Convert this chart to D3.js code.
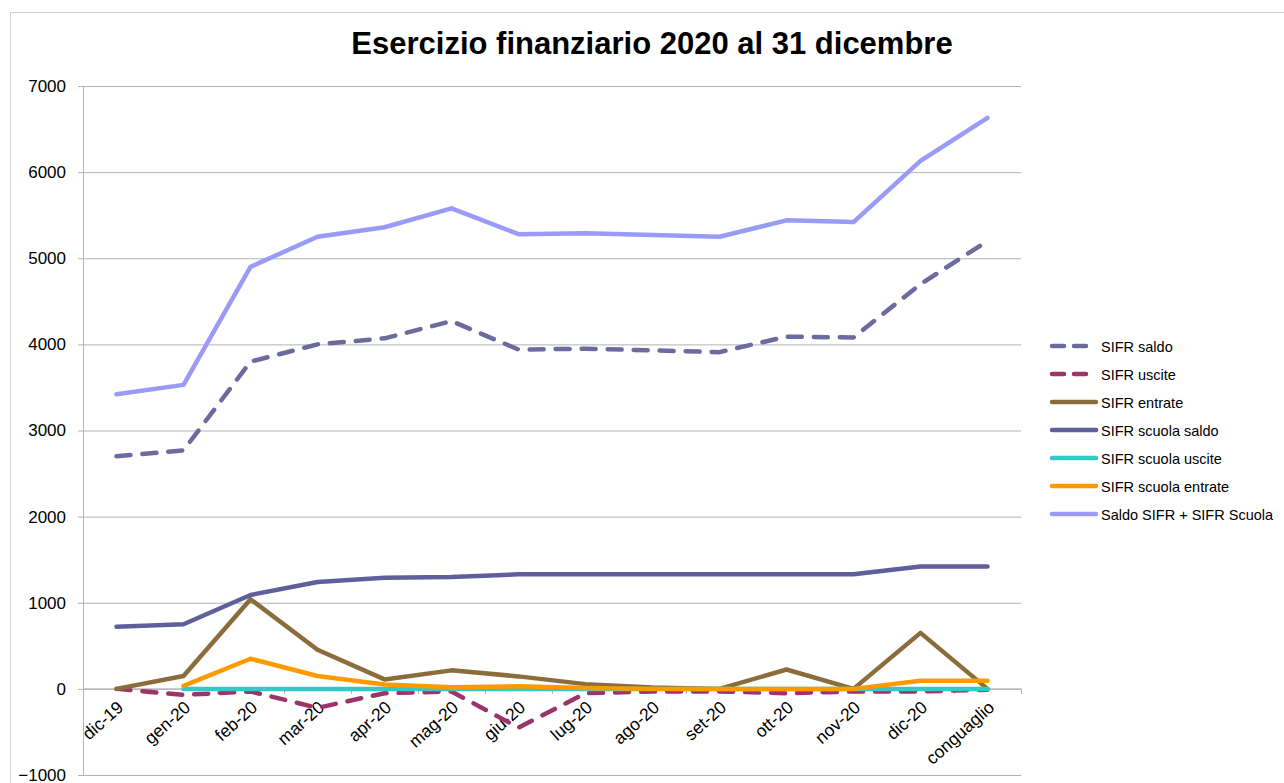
<!DOCTYPE html>
<meta charset="utf-8">
<style>
body { margin: 0; background: #fff; }
text { font-family: "Liberation Sans", Arial, Helvetica, sans-serif; fill: #000; }
.grid line { stroke: #b3b3b3; stroke-width: 1; }
.series { fill: none; stroke-width: 4.5; stroke-linejoin: round; stroke-linecap: round; }
</style>
<svg width="1284" height="783"></svg>
<script src="https://d3js.org/d3.v7.min.js"></script>
<script>

var categories = ["dic-19", "gen-20", "feb-20", "mar-20", "apr-20", "mag-20", "giu-20",
                  "lug-20", "ago-20", "set-20", "ott-20", "nov-20", "dic-20", "conguaglio"];

// values (null = no point)
var sifrSaldo      = [2700, 2770, 3800, 4000, 4070, 4270, 3940, 3950, 3930, 3910, 4090, 4080, 4700, 5200];
var sifrUscite     = [0, -70, -30, -220, -50, -30, -450, -50, -30, -30, -50, -30, -30, -10];
var sifrEntrate    = [0, 150, 1040, 455, 110, 215, 145, 55, 15, 0, 225, 0, 650, 0];
var scuolaSaldo    = [720, 750, 1090, 1240, 1290, 1300, 1330, 1330, 1330, 1330, 1330, 1330, 1420, 1420];
var scuolaUscite   = [null, 0, 0, 0, 0, 0, 0, 0, 0, 0, 0, 0, 0, 0];
var scuolaEntrate  = [null, 35, 350, 150, 50, 20, 30, 10, 0, 0, 0, 0, 95, 95];
var saldoTotale    = [3420, 3530, 4900, 5250, 5360, 5580, 5280, 5290, 5270, 5250, 5440, 5420, 6130, 6630];

var yTicks = [-1000, 0, 1000, 2000, 3000, 4000, 5000, 6000, 7000];

var series = [
  {name: "SIFR saldo", values: sifrSaldo, color: "#6b6b9e", dash: true},
  {name: "SIFR uscite", values: sifrUscite, color: "#9b3468", dash: true},
  {name: "SIFR entrate", values: sifrEntrate, color: "#8b6c3c", dash: false},
  {name: "SIFR scuola saldo", values: scuolaSaldo, color: "#5f5f9c", dash: false},
  {name: "SIFR scuola uscite", values: scuolaUscite, color: "#33c9c6", dash: false},
  {name: "SIFR scuola entrate", values: scuolaEntrate, color: "#ff9900", dash: false},
  {name: "Saldo SIFR + SIFR Scuola", values: saldoTotale, color: "#9a9af7", dash: false}
];

var svg = d3.select("svg");

// faint frame of the chart object
svg.append("path")
    .attr("d", "M10.5,783 L10.5,12.5 L1284,12.5")
    .attr("fill", "none")
    .attr("stroke", "#d0d0d0");

var plotLeft = 83, plotRight = 1021, plotTop = 86, plotBottom = 775;

var x = d3.scaleBand().domain(categories).range([plotLeft, plotRight]);
var y = d3.scaleLinear().domain([-1000, 7000]).range([plotBottom, plotTop]);

// title
svg.append("text")
    .attr("x", 652).attr("y", 54)
    .attr("text-anchor", "middle")
    .style("font-size", "31px")
    .style("font-weight", "bold")
    .text("Esercizio finanziario 2020 al 31 dicembre");

// horizontal gridlines + y axis
var yAxis = d3.axisLeft(y).tickValues(yTicks).tickSize(-(plotRight - plotLeft)).tickPadding(17).tickFormat(d3.format("d"));
var gy = svg.append("g").attr("class", "grid").attr("transform", "translate(" + plotLeft + ",0)").call(yAxis);
gy.select(".domain").remove();
gy.selectAll(".tick line").attr("x1", -5).attr("stroke", "#b3b3b3");
gy.selectAll(".tick text").style("font-size", "17px").attr("fill", "#000");

svg.append("line")
    .attr("x1", plotLeft + 0.5).attr("x2", plotLeft + 0.5)
    .attr("y1", plotTop).attr("y2", plotBottom)
    .attr("stroke", "#b3b3b3");

// x axis crossing at zero
var gx = svg.append("g").attr("transform", "translate(0," + y(0) + ")");
gx.append("line").attr("x1", plotLeft).attr("x2", plotRight).attr("stroke", "#b3b3b3");
gx.selectAll(".xtick")
    .data(categories.concat(["__end"]))
    .enter().append("line")
    .attr("x1", function(d, i) { return plotLeft + i * x.bandwidth() + 0.5; })
    .attr("x2", function(d, i) { return plotLeft + i * x.bandwidth() + 0.5; })
    .attr("y1", 0).attr("y2", 5)
    .attr("stroke", "#b3b3b3");
gx.selectAll(".xlabel")
    .data(categories)
    .enter().append("text")
    .attr("text-anchor", "end")
    .style("font-size", "17.5px")
    .attr("transform", function(d) {
      return "translate(" + (x(d) + x.bandwidth() / 2 + 8) + ",20) rotate(-42)";
    })
    .text(function(d) { return d; });

// lines
var line = d3.line()
    .defined(function(d) { return d != null; })
    .x(function(d, i) { return x(categories[i]) + x.bandwidth() / 2; })
    .y(function(d) { return y(d); });

svg.selectAll(".series")
    .data(series)
    .enter().append("path")
    .attr("class", "series")
    .attr("stroke", function(d) { return d.color; })
    .attr("stroke-dasharray", function(d) { return d.dash ? "14,12" : null; })
    .attr("d", function(d) { return line(d.values); });

// legend
var legend = svg.append("g").attr("transform", "translate(1050,346)");
var item = legend.selectAll(".item")
    .data(series)
    .enter().append("g")
    .attr("transform", function(d, i) { return "translate(0," + i * 28 + ")"; });
item.append("line")
    .attr("x1", 2).attr("x2", 46)
    .attr("stroke", function(d) { return d.color; })
    .attr("stroke-width", 4.5)
    .attr("stroke-linecap", "round")
    .attr("stroke-dasharray", function(d) { return d.dash ? "12,10" : null; });
item.append("text")
    .attr("x", 51).attr("y", 5.5)
    .style("font-size", "14.5px")
    .text(function(d) { return d.name; });

</script>
